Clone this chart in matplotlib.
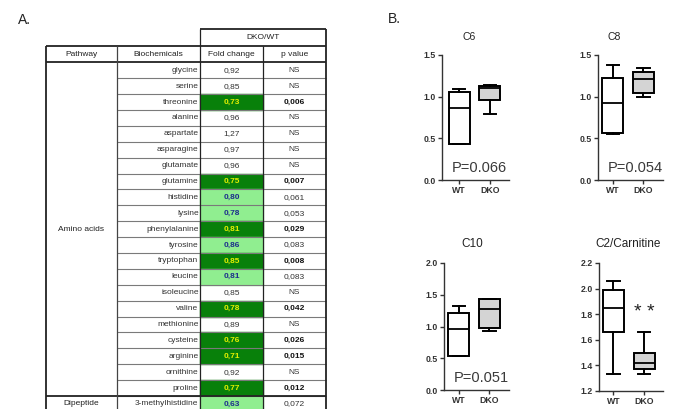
import matplotlib
matplotlib.use("Agg")
import matplotlib.pyplot as plt
from matplotlib.patches import Rectangle

plt.rcParams['font.family'] = ['Liberation Sans', 'DejaVu Sans']

# =========================
# DATOS TABLA (A.)
# =========================
biochemicals = ["glycine", "serine", "threonine", "alanine", "aspartate", "asparagine",
                "glutamate", "glutamine", "histidine", "lysine", "phenylalanine", "tyrosine",
                "tryptophan", "leucine", "isoleucine", "valine", "methionine", "cysteine",
                "arginine", "ornithine", "proline", "3-methylhistidine"]
fold_change = [0.92, 0.85, 0.73, 0.96, 1.27, 0.97, 0.96, 0.75, 0.80, 0.78, 0.81, 0.86,
               0.85, 0.81, 0.85, 0.78, 0.89, 0.76, 0.71, 0.92, 0.77, 0.63]
p_value = [None, None, 0.006, None, None, None, None, 0.007, 0.061, 0.053, 0.029, 0.083,
           0.008, 0.083, None, 0.042, None, 0.026, 0.015, None, 0.012, 0.072]
pathways = ["Amino acids", "Dipeptide"]
pathway_rows = [21, 1]

# =========================
# DATOS BOXPLOTS (B.)  [min, q1, mediana, q3, max]
# =========================
groups = ["WT", "DKO"]
c6_wt = [0.43, 0.43, 0.86, 1.06, 1.09]
c6_dko = [0.79, 0.96, 1.11, 1.13, 1.14]
c8_wt = [0.55, 0.57, 0.92, 1.22, 1.38]
c8_dko = [1.00, 1.05, 1.21, 1.30, 1.35]
c10_wt = [0.54, 0.54, 0.96, 1.21, 1.32]
c10_dko = [0.93, 0.98, 1.28, 1.44, 1.44]
c2_wt = [1.33, 1.66, 1.85, 1.99, 2.06]
c2_dko = [1.33, 1.37, 1.42, 1.50, 1.66]

W, H = 673, 409
fig = plt.figure(figsize=(W / 100, H / 100), dpi=100)

# =========================
# TABLA
# =========================
tab = fig.add_axes([0, 0, 1, 1])
tab.set_xlim(0, W)
tab.set_ylim(H, 0)
tab.axis("off")

cols = [46, 117, 200, 263, 326]
top_dko, top_head, top_data = 29, 45.7, 62.3
rh = 15.89
fs = 6

DARK, LIGHT = "#08800a", "#90ee90"
YELLOW, BLUE = "#e4f000", "#1c2f8c"


def fmt(v, n):
    return f"{v:.{n}f}".replace(".", ",")


def hline(y, x0, x1, lw=0.8, c="#7a7a7a"):
    tab.plot([x0, x1], [y, y], color=c, lw=lw, solid_capstyle="butt", zorder=3)


def vline(x, y0, y1, lw=0.8, c="#222222"):
    tab.plot([x, x], [y0, y1], color=c, lw=lw, solid_capstyle="butt", zorder=3)


n = len(biochemicals)
bottom = top_data + n * rh + 20

for i, name in enumerate(biochemicals):
    y0 = top_data + i * rh
    yc = y0 + rh / 2
    fc = fold_change[i]
    p = p_value[i]
    sig = p is not None and p < 0.05
    near = p is not None and not sig
    if sig:
        tab.add_patch(Rectangle((cols[2], y0), cols[3] - cols[2], rh, color=DARK, zorder=1))
        fcol, fw = YELLOW, "bold"
    elif near:
        tab.add_patch(Rectangle((cols[2], y0), cols[3] - cols[2], rh, color=LIGHT, zorder=1))
        fcol, fw = BLUE, "bold"
    else:
        fcol, fw = "#333333", "normal"
    tab.text(cols[2] - 1.5, yc, name, ha="right", va="center", fontsize=fs, color="#333333", zorder=4)
    tab.text((cols[2] + cols[3]) / 2, yc, fmt(fc, 2), ha="center", va="center",
             fontsize=fs, color=fcol, fontweight=fw, zorder=4)
    ptxt = "NS" if p is None else fmt(p, 3)
    tab.text((cols[3] + cols[4]) / 2, yc, ptxt, ha="center", va="center", fontsize=fs,
             color="#111111" if sig else "#333333", fontweight="bold" if sig else "normal", zorder=4)
    if i > 0:
        hline(y0, cols[1], cols[4])

# grupos de pathway
start = 0
for name, nrows in zip(pathways, pathway_rows):
    y0 = top_data + start * rh
    yc = y0 + nrows * rh / 2
    tab.text((cols[0] + cols[1]) / 2, yc, name, ha="center", va="center", fontsize=fs, color="#222222")
    if start > 0:
        hline(y0, cols[0], cols[4], lw=1.3, c="#222222")
    start += nrows

# encabezados
tab.text((cols[2] + cols[4]) / 2, (top_dko + top_head) / 2, "DKO/WT", ha="center", va="center",
         fontsize=fs, color="#222222")
heads = ["Pathway", "Biochemicals", "Fold change", "p value"]
for k, h in enumerate(heads):
    tab.text((cols[k] + cols[k + 1]) / 2, (top_head + top_data) / 2, h, ha="center", va="center",
             fontsize=fs, color="#222222")

hline(top_dko, cols[2], cols[4], lw=1.3, c="#222222")
hline(top_head, cols[0], cols[4], lw=1.3, c="#222222")
hline(top_data, cols[0], cols[4], lw=1.3, c="#222222")
vline(cols[2], top_dko, bottom, lw=0.9)
vline(cols[4], top_dko, bottom, lw=1.3)
vline(cols[0], top_head, bottom, lw=1.3)
vline(cols[1], top_head, bottom, lw=0.9, c="#444444")
vline(cols[3], top_head, bottom, lw=0.9)

fig.text(18 / W, 1 - 20 / H, "A.", fontsize=10, va="center", ha="left", color="#222222")
fig.text(388 / W, 1 - 19 / H, "B.", fontsize=10, va="center", ha="left", color="#222222")

# =========================
# BOXPLOTS
# =========================
panels = [
    ("C6", c6_wt, c6_dko, (442, 55, 509, 180), (0.0, 1.5), [0, 0.5, 1.0, 1.5], 0.44, (469, 37), 7.5, "P=0.066"),
    ("C8", c8_wt, c8_dko, (598, 55, 663, 180), (0.0, 1.5), [0, 0.5, 1.0, 1.5], 0.52, (614, 37), 7.5, "P=0.054"),
    ("C10", c10_wt, c10_dko, (444, 263, 509, 390), (0.0, 2.0), [0, 0.5, 1.0, 1.5, 2.0], 0.52, (472, 244), 8.5, "P=0.051"),
    ("C2/Carnitine", c2_wt, c2_dko, (599, 263, 663, 391), (1.2, 2.2), [1.2, 1.4, 1.6, 1.8, 2.0, 2.2], 0.53, (628, 244), 8.5, None),
]

for title, wt, dko, (l, t, r, b), ylim, yticks, xmin, (tx, ty), tfs, ptxt in panels:
    ax = fig.add_axes([l / W, 1 - b / H, (r - l) / W, (b - t) / H])
    stats = []
    for lab, v in zip(groups, [wt, dko]):
        stats.append(dict(label=lab, whislo=v[0], q1=v[1], med=v[2], q3=v[3], whishi=v[4]))
    bp = ax.bxp(stats, positions=[1, 2], widths=0.68, capwidths=0.4, showfliers=False,
                patch_artist=True,
                boxprops=dict(linewidth=1.4, edgecolor="black"),
                whiskerprops=dict(linewidth=1.4, color="black"),
                capprops=dict(linewidth=1.4, color="black"),
                medianprops=dict(linewidth=1.3, color="black"))
    bp["boxes"][0].set_facecolor("white")
    bp["boxes"][1].set_facecolor("#d4d4d4")
    ax.set_xlim(xmin, xmin + (r - l) / 30.7)
    ax.set_ylim(*ylim)
    ax.set_yticks(yticks)
    ax.set_yticklabels([f"{v:.1f}" for v in yticks], fontsize=6.3, fontweight="bold", color="#333333")
    ax.set_xticks([1, 2])
    ax.set_xticklabels(groups, fontsize=6.3, fontweight="bold", color="#333333")
    for s in ["top", "right"]:
        ax.spines[s].set_visible(False)
    for s in ["left", "bottom"]:
        ax.spines[s].set_linewidth(1.0)
        ax.spines[s].set_color("#333333")
    ax.tick_params(length=3, width=1.0, color="#333333", pad=1.2)
    ax.patch.set_alpha(0)
    fig.text(tx / W, 1 - ty / H, title, ha="center", va="center", fontsize=tfs, color="#222222")
    if ptxt:
        ax.text(0.15, 0.095, ptxt, transform=ax.transAxes, ha="left", va="center",
                fontsize=10.5, color="#3a3a3a")
    else:
        ax.text(2, 1.81, "* *", ha="center", va="center", fontsize=14, color="#222222")

fig.savefig("out.png", dpi=100)
